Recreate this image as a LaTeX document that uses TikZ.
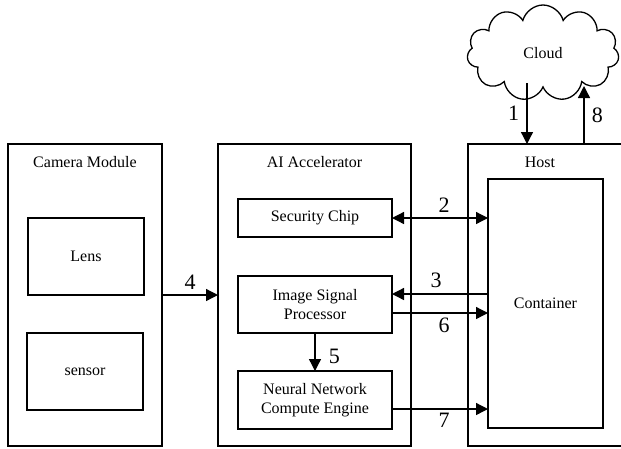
\documentclass[tikz,border=0pt]{standalone}
\usepackage{fontspec}
\setmainfont{Liberation Serif}
\usetikzlibrary{arrows.meta}
\usetikzlibrary{shapes.symbols}

\tikzset{
  box/.style={draw=black,line width=1.3pt,rectangle,outer sep=0pt,inner sep=0pt,
    font=\fontsize{16}{18.5}\selectfont,align=center},
  title/.style={font=\fontsize{16}{18.5}\selectfont},
  num/.style={font=\fontsize{22}{24}\selectfont},
  arr/.style={line width=1.3pt,-{Triangle[length=12pt,width=12pt]}},
  dblarr/.style={line width=1.3pt,{Triangle[length=12pt,width=12pt]}-{Triangle[length=12pt,width=12pt]}}
}

\begin{document}
\begin{tikzpicture}[x=1pt,y=-1pt]

\useasboundingbox (0,0) rectangle (621,448);
\clip (0,0) rectangle (621,448);

% outer blocks
\node[box,minimum width=154pt,minimum height=302pt] (cam) at (85,295) {};
\node[box,minimum width=193pt,minimum height=302pt] (ai) at (314.5,295) {};
\node[box,minimum width=220pt,minimum height=302pt] (host) at (578,295) {};
\node[title] (camtitle) at (85,162) {Camera Module};
\node[title] (aititle) at (314.5,162) {AI Accelerator};
\node[title] (hosttitle) at (540,162) {Host};

% inner blocks
\node[box,minimum width=116pt,minimum height=77pt] (lens) at (86,256.5) {Lens};
\node[box,minimum width=116pt,minimum height=77pt] (sensor) at (85,371.5) {sensor};
\node[box,minimum width=154pt,minimum height=38pt] (sec) at (315,218) {Security Chip};
\node[box,minimum width=154pt,minimum height=57pt] (isp) at (315,304.5) {Image Signal\\Processor};
\node[box,minimum width=154pt,minimum height=58pt] (nnce) at (315,400) {Neural Network\\Compute Engine};
\node[box,minimum width=115pt,minimum height=249pt] (cont) at (545.5,303.5) {Container};

% cloud
\node[draw=black,line width=1.3pt,cloud,cloud puffs=11,cloud ignores aspect,
  minimum width=152pt,minimum height=96pt,inner sep=0pt,title] (cloud) at (543,53) {Cloud};

\coordinate (c1) at (527,83);
\coordinate (c8) at (584,86);
\coordinate (isp3) at ([yshift=10.5pt]isp.east);
\coordinate (isp6) at ([yshift=-8.5pt]isp.east);
\coordinate (nn7) at ([yshift=-9pt]nnce.east);

% connectors
\draw[arr] (c1) -- (c1 |- host.north) node[num,midway,left,xshift=-4pt] {1};
\draw[arr] (c8 |- host.north) -- (c8) node[num,midway,right,xshift=4pt] {8};
\draw[dblarr] (sec.east) -- (cont.west |- sec.east) node[num,midway,above,yshift=2pt,xshift=4pt] {2};
\draw[arr] (cont.west |- isp3) -- (isp3) node[num,midway,above,yshift=2pt,xshift=-4pt] {3};
\draw[arr] (cam.east) -- (ai.west) node[num,midway,above,yshift=2pt] {4};
\draw[arr] (isp.south) -- (nnce.north) node[num,midway,right,xshift=10pt,yshift=-4pt] {5};
\draw[arr] (isp6) -- (cont.west |- isp6) node[num,midway,below,yshift=-1pt,xshift=4pt] {6};
\draw[arr] (nn7) -- (cont.west |- nn7) node[num,midway,below,xshift=4pt] {7};

\end{tikzpicture}
\end{document}
